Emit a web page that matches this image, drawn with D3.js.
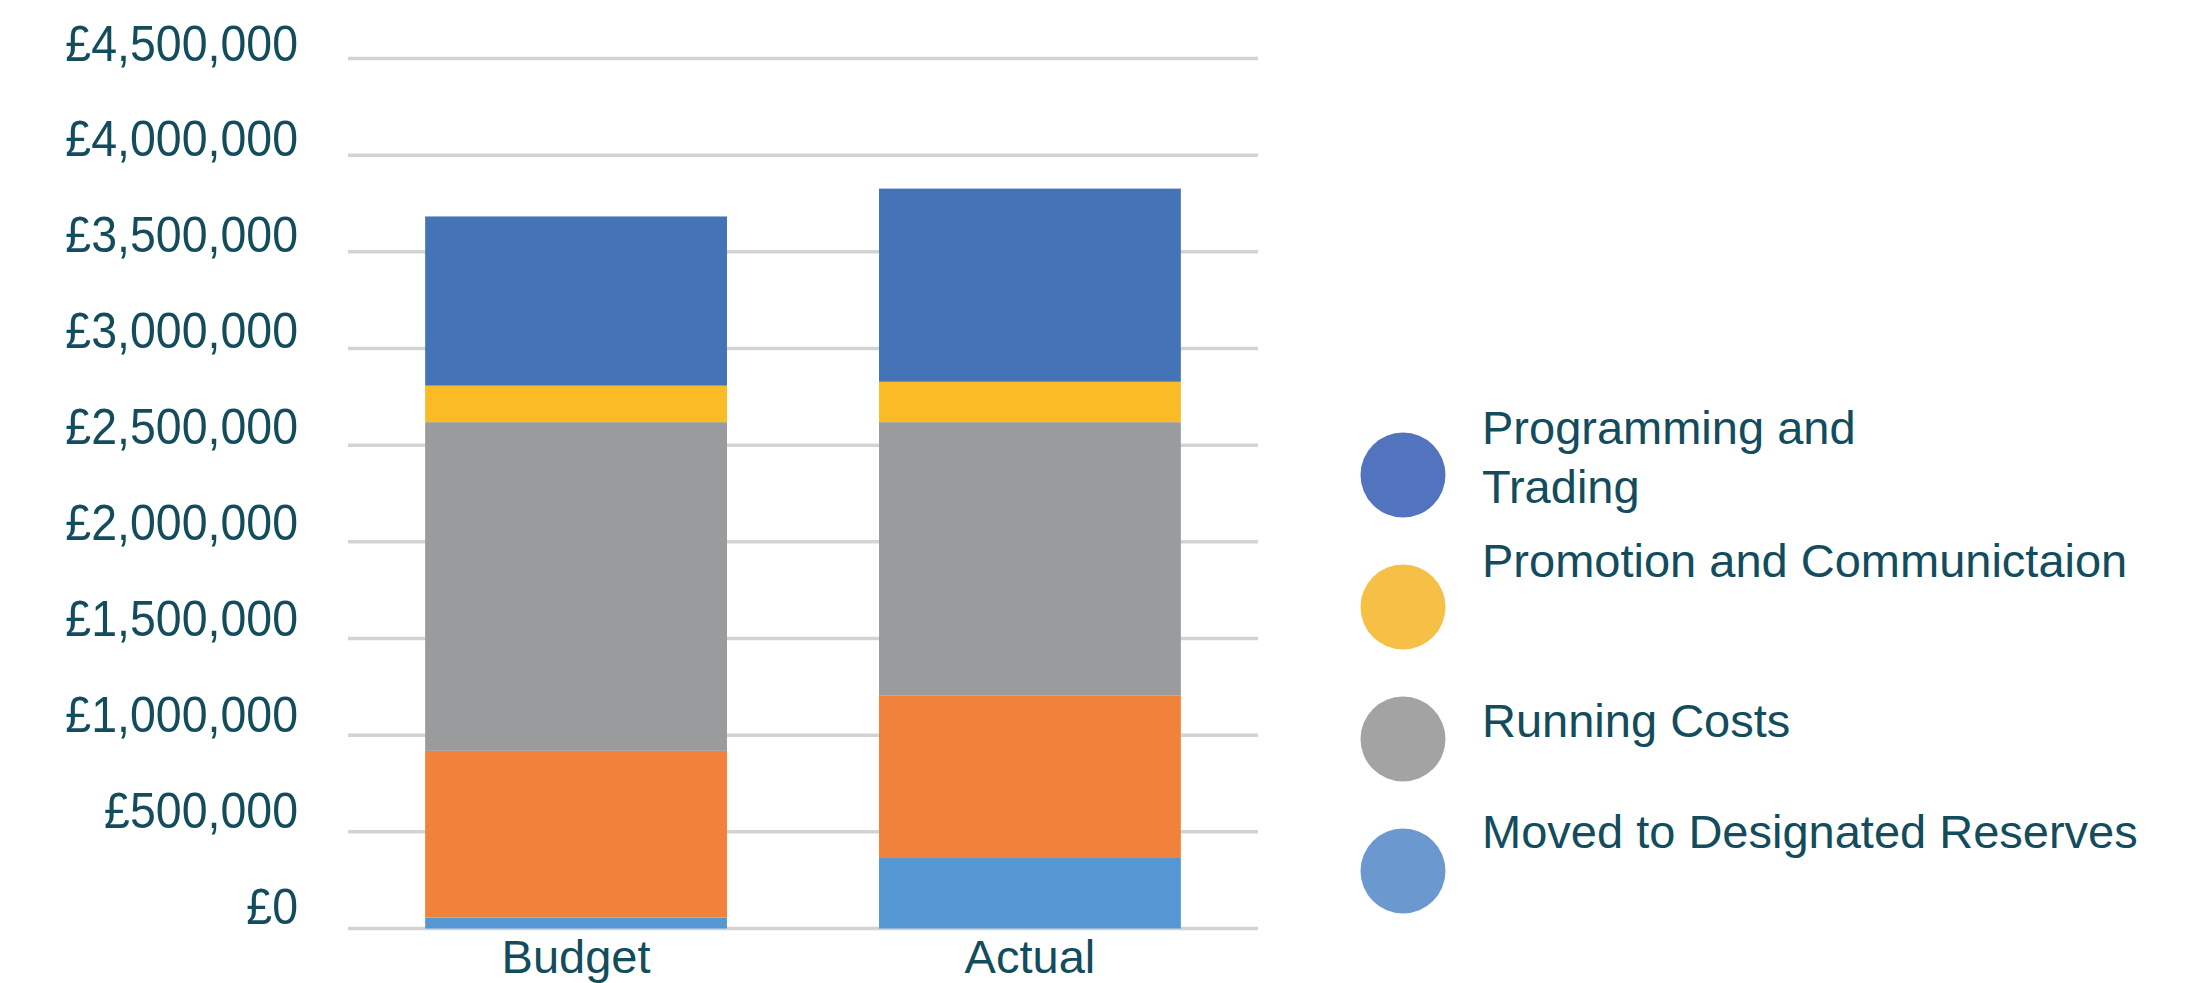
<!DOCTYPE html>
<html>
<head>
<meta charset="utf-8">
<script src="https://cdn.jsdelivr.net/npm/d3@7"></script>
<style>
  html, body { margin: 0; padding: 0; background: #ffffff; }
  svg { display: block; }
  text { font-family: "Liberation Sans", Arial, sans-serif; fill: #124c5d; }
</style>
</head>
<body>
<svg id="chart" width="2194" height="983"></svg>
<script>
// ---- data ----
const categories = ["Budget", "Actual"];
const yTicks = [0, 500000, 1000000, 1500000, 2000000, 2500000, 3000000, 3500000, 4000000, 4500000];
const movedToReserves = [57000, 369000];
const unlabelledCosts = [862000, 835000];
const runningCosts = [1700000, 1415000];
const promotion = [189000, 209000];
const programming = [875000, 999000];
const seriesKeys = ["reserves", "unlabelled", "running", "promotion", "programming"];
const legendKeys = ["programming", "promotion", "running", "reserves"];
const legendLabels = [["Programming and", "Trading"], ["Promotion and Communictaion"], ["Running Costs"], ["Moved to Designated Reserves"]];

// ---- styles / layout ----
const barColors = { reserves: "#5597d2", unlabelled: "#f0823c", running: "#9a9b9d", promotion: "#fbbb27", programming: "#4573b8" };
const legendColors = { programming: "#5273bd", promotion: "#f6c046", running: "#a3a3a3", reserves: "#6a98cf" };
const legendCircleY = [475, 607, 739, 871];
const legendTextY = [444, 577, 737, 848];

const table = categories.map((c, i) => ({
  category: c,
  reserves: movedToReserves[i],
  unlabelled: unlabelledCosts[i],
  running: runningCosts[i],
  promotion: promotion[i],
  programming: programming[i]
}));

const svg = d3.select("#chart");

const x = d3.scaleBand().domain(categories).range([348, 1258]).paddingInner(0.335).paddingOuter(0.17);
const y = d3.scaleLinear().domain([0, 4500000]).range([928.5, 58.5]);
const labelY = d3.scaleLinear().domain([0, 4500000]).range([923, 60]);

const fmt = v => "£" + d3.format(",")(v);

// gridlines
svg.append("g")
  .selectAll("line")
  .data(yTicks)
  .join("line")
  .attr("x1", 348).attr("x2", 1258)
  .attr("y1", d => y(d)).attr("y2", d => y(d))
  .attr("stroke", "#d3d3d3").attr("stroke-width", 3.5);

// y axis labels
const yAxis = d3.axisLeft(y).tickValues(yTicks).tickFormat(fmt).tickSize(0).tickPadding(0);
const ga = svg.append("g").attr("transform", "translate(298,0)").call(yAxis);
ga.select(".domain").remove();
ga.selectAll(".tick text")
  .attr("dy", null)
  .attr("y", d => labelY(d) - y(d))
  .attr("x", 0)
  .attr("text-anchor", "end")
  .attr("transform", "scale(0.93,1)")
  .style("font-family", '"Liberation Sans", Arial, sans-serif')
  .style("font-size", "50px")
  .attr("fill", "#124c5d");

// stacked bars
const stack = d3.stack().keys(seriesKeys)(table);
svg.append("g")
  .selectAll("g")
  .data(stack)
  .join("g")
  .attr("fill", d => barColors[d.key])
  .selectAll("rect")
  .data(d => d)
  .join("rect")
  .attr("x", d => x(d.data.category))
  .attr("width", x.bandwidth())
  .attr("y", d => y(d[1]))
  .attr("height", d => y(d[0]) - y(d[1]));

// x axis labels
const xAxis = d3.axisBottom(x).tickSize(0).tickPadding(0);
const gx = svg.append("g").attr("transform", "translate(0,973)").call(xAxis);
gx.select(".domain").remove();
gx.selectAll(".tick text")
  .attr("dy", null).attr("y", 0)
  .style("font-family", '"Liberation Sans", Arial, sans-serif')
  .style("font-size", "47px")
  .attr("fill", "#124c5d");

// legend
const lg = svg.append("g");
legendKeys.forEach((k, i) => {
  lg.append("circle")
    .attr("cx", 1403).attr("cy", legendCircleY[i]).attr("r", 42.5)
    .attr("fill", legendColors[k]);
  const t = lg.append("text")
    .attr("x", 1482).attr("y", legendTextY[i])
    .style("font-size", "47px");
  legendLabels[i].forEach((line, j) => {
    t.append("tspan").attr("x", 1482).attr("dy", j === 0 ? 0 : 58.5).text(line);
  });
});
</script>
</body>
</html>
